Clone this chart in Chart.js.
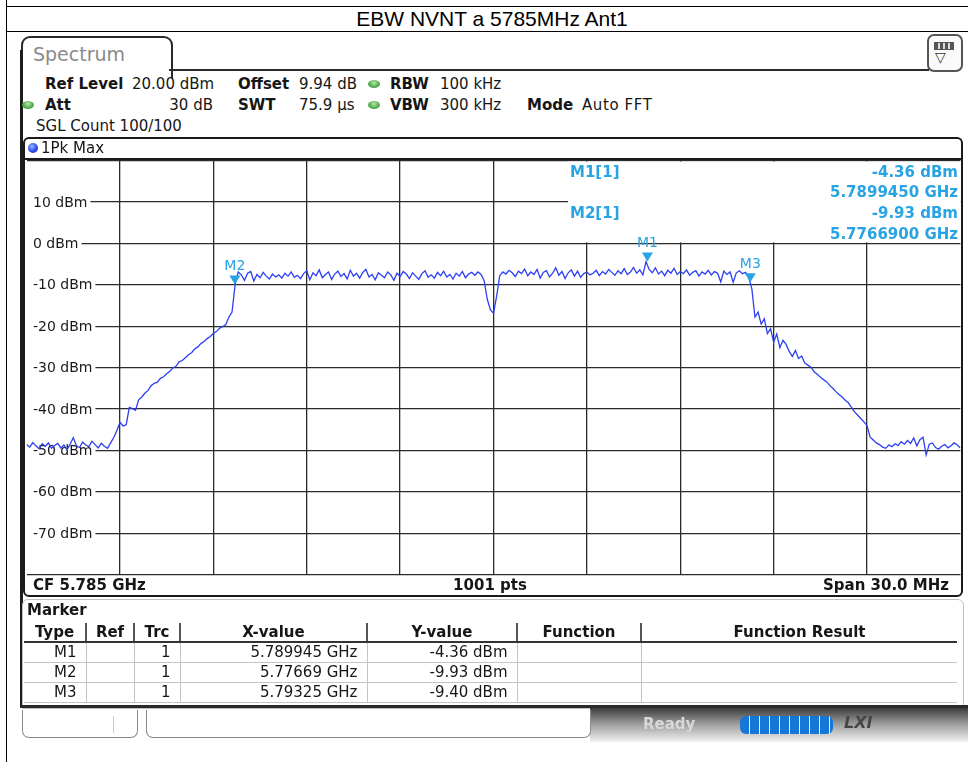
<!DOCTYPE html>
<html><head><meta charset="utf-8">
<script src="https://cdn.jsdelivr.net/npm/chart.js@4.4.0/dist/chart.umd.min.js"></script>
<style>
html,body{margin:0;padding:0;background:#fff;}
body{width:968px;height:762px;position:relative;overflow:hidden;font-family:"DejaVu Sans",Verdana,sans-serif;color:#161616;}
.a{position:absolute;white-space:nowrap;font-size:15px;line-height:18px;}
.b{font-weight:bold;}
.ln{position:absolute;background:#000;}
#c{position:absolute;left:0;top:0;}
.dot{position:absolute;width:12px;height:8px;border-radius:50%;background:radial-gradient(ellipse at 50% 35%,#b6e6b0 0%,#55b04e 55%,#2f8a2a 100%);}
table.mk{position:absolute;left:24px;top:623px;border-collapse:collapse;font-size:15px;table-layout:fixed;}
table.mk td,table.mk th{padding:0 9px 0 0;white-space:nowrap;}
table.mk th{height:18px;line-height:18px;font-weight:bold;text-align:center;padding:0;border-left:2px solid #555;border-bottom:2px solid #333;}
table.mk th:first-child{border-left:none;}
table.mk td{height:19px;line-height:19px;text-align:right;border-left:1px solid #c4c4c4;border-bottom:1px solid #c4c4c4;}
table.mk td:first-child{border-left:none;}
</style></head>
<body>
<!-- outer report table lines -->
<div class="ln" style="left:6px;top:0;width:1px;height:762px;"></div>
<div class="ln" style="left:6px;top:6px;width:962px;height:1px;"></div>
<div class="ln" style="left:6px;top:31px;width:962px;height:1px;"></div>
<div class="a" style="left:192px;top:7px;width:600px;text-align:center;font-family:'Liberation Sans',Arial,sans-serif;font-size:21px;line-height:24px;color:#000;">EBW NVNT a 5785MHz Ant1</div>

<!-- instrument frame -->
<div style="position:absolute;left:21px;top:36px;width:148px;height:40px;border:2px solid #2a2a2a;border-bottom:none;border-radius:9px 9px 0 0;"></div>
<div class="ln" style="left:20px;top:50px;width:3px;height:658px;background:#1c1c1c;"></div>
<div class="ln" style="left:169px;top:69px;width:760px;height:2px;background:#2a2a2a;"></div>
<div class="a" style="left:33px;top:43px;font-size:19px;line-height:22px;color:#8a8a8a;">Spectrum</div>
<div style="position:absolute;left:927px;top:34px;width:32px;height:34px;border:2px solid #555;border-radius:7px;background:#fafafa;"></div>
<div style="position:absolute;left:934px;top:42px;width:18px;height:6px;border:1px solid #555;background:repeating-linear-gradient(90deg,#555 0 3px,#ddd 3px 5px);"></div>
<div class="a" style="left:935px;top:49px;font-size:14px;line-height:16px;color:#333;">&#9661;</div>

<!-- settings -->
<div class="a b" style="left:45px;top:75px;">Ref Level</div>
<div class="a" style="left:132px;top:75px;">20.00 dBm</div>
<div class="a b" style="left:238px;top:75px;">Offset</div>
<div class="a" style="left:299px;top:75px;">9.94 dB</div>
<div class="dot" style="left:368px;top:80px;"></div>
<div class="a b" style="left:390px;top:75px;">RBW</div>
<div class="a" style="left:440px;top:75px;">100 kHz</div>

<div class="dot" style="left:22px;top:101px;"></div>
<div class="a b" style="left:45px;top:96px;">Att</div>
<div class="a" style="left:140px;top:96px;width:73px;text-align:right;">30 dB</div>
<div class="a b" style="left:238px;top:96px;">SWT</div>
<div class="a" style="left:299px;top:96px;">75.9 µs</div>
<div class="dot" style="left:368px;top:101px;"></div>
<div class="a b" style="left:390px;top:96px;">VBW</div>
<div class="a" style="left:440px;top:96px;">300 kHz</div>
<div class="a b" style="left:527px;top:96px;">Mode</div>
<div class="a" style="left:582px;top:96px;letter-spacing:0.6px;">Auto FFT</div>
<div class="a" style="left:36px;top:117px;">SGL Count 100/100</div>

<canvas id="c" width="968" height="762"></canvas>

<!-- diagram panel -->
<div style="position:absolute;left:23px;top:137px;width:936px;height:456px;border:2px solid #1a1a1a;border-radius:6px;pointer-events:none;"></div>
<div class="ln" style="left:25px;top:158px;width:936px;height:2px;background:#1a1a1a;"></div>
<div style="position:absolute;left:28px;top:143px;width:10px;height:10px;border-radius:50%;background:radial-gradient(circle at 40% 35%,#9db6ff 0%,#2a4cf0 55%,#12209a 100%);"></div>
<div class="a" style="left:41px;top:139px;">1Pk Max</div>
<div class="a b" style="left:33px;top:576px;">CF 5.785 GHz</div>
<div class="a b" style="left:390px;top:576px;width:200px;text-align:center;">1001 pts</div>
<div class="a b" style="left:700px;top:576px;width:249px;text-align:right;">Span 30.0 MHz</div>

<!-- marker table panel -->
<div style="position:absolute;left:22px;top:599px;width:940px;height:108px;border:1px solid #c0c0c0;border-radius:6px 6px 0 0;"></div>
<div class="a b" style="left:27px;top:601px;">Marker</div>
<table class="mk" id="mk"></table>
<div class="ln" style="left:20px;top:705px;width:948px;height:3px;background:#2a2a2a;"></div>

<!-- status bar -->
<div style="position:absolute;left:590px;top:708px;width:378px;height:34px;background:linear-gradient(#3c3c3c,#9a9a9a 45%,#f2f2f2);"></div>
<div style="position:absolute;left:22px;top:710px;width:114px;height:27px;border:1px solid #8a8a8a;border-top:none;border-radius:0 0 7px 7px;background:#fff;"></div>
<div class="ln" style="left:113px;top:716px;width:1px;height:17px;background:#ccc;"></div>
<div style="position:absolute;left:146px;top:710px;width:443px;height:27px;border:1px solid #8a8a8a;border-top:none;border-radius:0 0 7px 7px;background:#fff;"></div>
<div class="a b" style="left:643px;top:715px;color:#d8d8d8;">Ready</div>
<div style="position:absolute;left:740px;top:716px;width:93px;height:18px;border-radius:6px;background:repeating-linear-gradient(90deg,#1677d6 0 9px,#e8f0ff 9px 10px);"></div>
<div class="a b" style="left:844px;top:714px;font-style:italic;color:#474747;font-size:16px;">LXI</div>

<script>
// ---- data ----
const startMHz = 5770;      // CF 5.785 GHz, span 30 MHz
const stopMHz = 5800;
const stepMHz = 0.1;
const yTickLabels = ['10 dBm','0 dBm','-10 dBm','-20 dBm','-30 dBm','-40 dBm','-50 dBm','-60 dBm','-70 dBm'];
const yTickValues = [10,0,-10,-20,-30,-40,-50,-60,-70];
const traceDbm = [
-48.6,-49.2,-48.1,-48.9,-49.6,-48.4,-49.0,-48.2,-49.5,-48.8,
-48.3,-49.4,-48.7,-49.8,-48.5,-46.9,-48.9,-49.3,-48.0,-48.7,
-49.1,-47.8,-48.6,-49.4,-48.3,-49.0,-49.5,-48.2,-46.9,-45.2,
-43.2,-44.1,-43.8,-39.6,-39.9,-40.3,-37.8,-37.1,-36.2,-35.5,
-34.4,-33.8,-33.5,-32.6,-32.2,-31.5,-30.9,-30.1,-29.7,-28.6,
-28.3,-27.6,-26.9,-26.4,-25.5,-25.0,-24.2,-23.7,-23.0,-22.5,
-21.7,-21.3,-20.5,-20.1,-19.6,-17.8,-16.6,-9.9,-6.9,-7.6,
-8.9,-7.2,-6.8,-9.1,-7.5,-8.3,-7.0,-7.9,-8.6,-7.4,
-8.1,-7.6,-8.4,-7.2,-7.9,-6.9,-8.2,-7.7,-8.5,-7.3,
-6.6,-8.8,-7.1,-7.8,-6.4,-8.3,-7.5,-6.9,-8.7,-7.4,
-6.7,-8.0,-7.3,-8.6,-6.5,-7.9,-7.2,-8.4,-7.0,-6.3,
-8.1,-7.5,-8.8,-7.1,-7.7,-8.3,-6.9,-7.6,-8.9,-7.2,
-8.0,-6.8,-7.4,-8.5,-7.1,-7.9,-8.7,-7.3,-6.6,-8.2,
-7.6,-8.4,-7.0,-7.8,-6.7,-8.1,-7.5,-8.6,-7.2,-7.9,
-6.8,-8.3,-7.4,-7.0,-7.7,-6.9,-7.5,-9.0,-13.5,-16.0,
-16.9,-12.8,-7.8,-6.9,-7.4,-6.5,-7.1,-8.0,-6.7,-7.3,
-6.2,-7.8,-6.9,-7.5,-6.3,-8.4,-7.0,-6.6,-8.1,-7.2,
-5.9,-7.7,-6.8,-8.5,-7.1,-6.4,-7.9,-6.7,-8.2,-7.3,
-6.9,-7.6,-7.2,-6.5,-7.8,-6.8,-7.4,-6.3,-7.0,-7.7,
-6.6,-7.3,-6.1,-7.5,-6.9,-5.8,-7.2,-6.4,-7.6,-4.4,
-6.3,-7.1,-5.9,-7.4,-6.7,-7.8,-6.5,-7.2,-6.0,-7.5,
-6.8,-7.3,-6.4,-7.7,-7.0,-6.6,-7.9,-6.9,-7.4,-6.5,
-7.6,-6.8,-7.2,-9.3,-6.7,-7.5,-6.9,-9.4,-7.1,-6.6,
-7.3,-7.0,-8.2,-11.0,-17.8,-16.6,-19.5,-18.2,-21.8,-20.6,
-23.9,-21.9,-25.2,-23.4,-24.4,-26.1,-27.3,-25.9,-27.8,-27.2,
-28.9,-29.4,-29.9,-31.0,-31.6,-32.3,-32.9,-33.4,-34.3,-35.0,
-35.8,-36.5,-37.1,-37.9,-38.5,-39.6,-40.7,-41.5,-42.3,-43.1,
-44.0,-46.8,-47.5,-48.2,-48.6,-49.2,-49.5,-48.7,-49.1,-48.4,
-48.8,-47.9,-48.5,-47.6,-48.3,-47.0,-48.9,-47.4,-46.8,-51.1,
-48.5,-48.2,-49.3,-49.7,-49.0,-48.6,-49.4,-48.9,-48.2,-48.7,-49.4
];
const markerNames = ['M1','M2','M3'];
const markerFreqMHz = [5789.945, 5776.69, 5793.25];
const markerDbm = [-4.36, -9.93, -9.40];
const infoMarkers = [0, 1]; // shown in the marker info box

// ---- marker table ----
(function(){
  const t = document.getElementById('mk');
  const widths = [62,48,46,187,150,124,316];
  const heads = ['Type','Ref','Trc','X-value','Y-value','Function','Function Result'];
  let h = '<colgroup>' + widths.map(w=>'<col style="width:'+w+'px">').join('') + '</colgroup><tr>';
  heads.forEach(s=>{ h += '<th>'+s+'</th>'; });
  h += '</tr>';
  markerNames.forEach((n,i)=>{
    const xs = Number((markerFreqMHz[i]/1000).toFixed(6)).toString() + ' GHz';
    const ys = markerDbm[i].toFixed(2) + ' dBm';
    h += '<tr><td>'+n+'</td><td></td><td>1</td><td>'+xs+'</td><td>'+ys+'</td><td></td><td></td></tr>';
  });
  t.innerHTML = h;
})();

const points = traceDbm.map((v,i)=>({x: startMHz + i*stepMHz, y: v}));

const FONT = '"DejaVu Sans", Verdana, sans-serif';
const MCOL = '#28a3e3';
const GRID = '#2b2b2b';

const overlay = {
  id: 'overlay',
  beforeDatasetsDraw(chart){
    const {ctx, chartArea:a, scales:{x, y}} = chart;
    ctx.save();
    // marker info box (hides the grid behind it)
    const boxL = 568, boxB = y.getPixelForValue(0) - 1;
    ctx.fillStyle = '#fff';
    ctx.fillRect(boxL, a.top + 1, a.right - boxL, boxB - a.top - 1);
    ctx.font = 'bold 15px ' + FONT;
    ctx.fillStyle = MCOL;
    ctx.textBaseline = 'middle';
    infoMarkers.forEach((m,k)=>{
      const y0 = 173 + k*41.5;
      ctx.textAlign = 'left';
      ctx.fillText(markerNames[m] + '[1]', 570, y0);
      ctx.textAlign = 'right';
      ctx.fillText(markerDbm[m].toFixed(2) + ' dBm', 958, y0);
      ctx.fillText((markerFreqMHz[m]/1000).toFixed(7) + ' GHz', 958, y0 + 20.5);
    });
    // y tick labels with white backdrop
    ctx.font = '14px ' + FONT;
    ctx.textAlign = 'left';
    yTickValues.forEach((v,i)=>{
      const py = y.getPixelForValue(v);
      const w = ctx.measureText(yTickLabels[i]).width;
      ctx.fillStyle = '#fff';
      ctx.fillRect(a.left - 1, py - 7, w + 33 - a.left + 4, 14);
      ctx.fillStyle = '#1a1a1a';
      ctx.fillText(yTickLabels[i], 33, py + 1);
    });
    ctx.restore();
  },
  afterDatasetsDraw(chart){
    const {ctx, scales:{x, y}} = chart;
    ctx.save();
    ctx.fillStyle = MCOL;
    ctx.font = '14px ' + FONT;
    ctx.textAlign = 'center';
    ctx.textBaseline = 'middle';
    markerNames.forEach((n,i)=>{
      const px = x.getPixelForValue(markerFreqMHz[i]);
      const py = y.getPixelForValue(markerDbm[i]);
      ctx.beginPath();
      ctx.moveTo(px, py);
      ctx.lineTo(px - 5.5, py - 9);
      ctx.lineTo(px + 5.5, py - 9);
      ctx.closePath();
      ctx.fill();
      ctx.fillText(n, px, py - 18);
    });
    ctx.restore();
  }
};

new Chart(document.getElementById('c'), {
  type: 'line',
  data: { datasets: [{
    data: points,
    borderColor: '#2c40f2',
    borderWidth: 1.3,
    pointRadius: 0,
    tension: 0,
    fill: false
  }]},
  options: {
    responsive: false,
    animation: false,
    devicePixelRatio: 1,
    layout: { padding: { left: 26.6, right: 7.6, top: 160.6, bottom: 187.4 } },
    plugins: { legend: {display:false}, tooltip: {enabled:false}, title:{display:false} },
    scales: {
      x: { type:'linear', min:startMHz, max:stopMHz,
           ticks:{display:false, stepSize:3},
           grid:{color:(c)=> (c.tick && (c.tick.value===startMHz || c.tick.value===stopMHz)) ? 'rgba(0,0,0,0)' : GRID,
                 lineWidth:1.3, drawTicks:false},
           border:{display:false},
           afterFit(s){ s.height = 0; } },
      y: { type:'linear', min:-80, max:20,
           ticks:{display:false, stepSize:10},
           grid:{color:GRID, lineWidth:1.3, drawTicks:false},
           border:{display:false},
           afterFit(s){ s.width = 0; } }
    }
  },
  plugins: [overlay]
});
</script>
</body></html>
